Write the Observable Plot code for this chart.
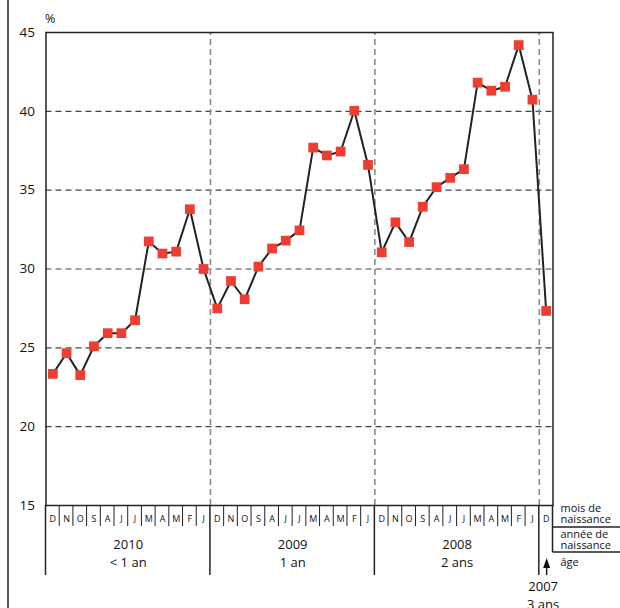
<!DOCTYPE html>
<html><head><meta charset="utf-8">
<script src="https://cdn.jsdelivr.net/npm/d3@7"></script>
<script src="https://cdn.jsdelivr.net/npm/@observablehq/plot@0.6"></script>
<style>
body{margin:0;background:#fff}
svg{font-family:"Open Sans",sans-serif}
</style>
</head><body><div id="chart"></div>
<script>
const months = ["D","N","O","S","A","J","J","M","A","M","F","J"];
const years = ["2010","2009","2008","2007"];
const ages = ["< 1 an","1 an","2 ans","3 ans"];
const values2010 = [23.35,24.66,23.27,25.1,25.93,25.93,26.75,31.75,30.98,31.1,33.79,30.0];
const values2009 = [27.5,29.24,28.08,30.15,31.3,31.8,32.45,37.7,37.2,37.45,40.04,36.6];
const values2008 = [31.06,32.96,31.71,33.95,35.19,35.78,36.33,41.82,41.31,41.56,44.2,40.74];
const values2007 = [27.34];
const yTicks = [15,20,25,30,35,40,45];
const gridValues = [20,25,30,35,40];
const rowLabels = [["mois de","naissance"],["année de","naissance"],["âge"]];

const series = [values2010, values2009, values2008, values2007];
const data = series.flatMap((vals, k) => vals.map((v, j) => ({i: k * 12 + j, v, m: months[j], year: years[k]})));
const n = data.length;
const yearBounds = [11.5, 23.5, 35.5];
const groups = years.map((y, k) => ({c: k < 3 ? k * 12 + 5.5 : 36, year: y, age: ages[k], last: k === 3}));

const chart = Plot.plot({
  width: 620, height: 608,
  marginLeft: 45.5, marginRight: 67.5, marginTop: 32, marginBottom: 103,
  x: {domain: [-0.5, n - 0.5], axis: null},
  y: {domain: [15, 45], axis: null},
  style: {fontFamily: "Open Sans, sans-serif", background: "white", color: "#111"},
  marks: [
    Plot.ruleY(gridValues, {stroke: "#444", strokeDasharray: "6,4", strokeWidth: 1.2}),
    Plot.ruleX(yearBounds, {y1: 15, y2: 45, stroke: "#8a8a8a", strokeDasharray: "6,4", strokeWidth: 1.6}),
    Plot.frame({stroke: "#222", strokeWidth: 1.5}),
    Plot.axisY(yTicks, {tickSize: 0, tickPadding: 11, fontSize: 13.5, label: null, fill: "#111"}),
    Plot.line(data, {x: "i", y: "v", stroke: "#222", strokeWidth: 2}),
    Plot.dot(data, {x: "i", y: "v", symbol: "square", r: 5.5, fill: "#ee3e32", stroke: "none"}),
    Plot.text(data, {x: "i", y: () => 15, dy: 14, text: "m", fontSize: 9, fill: "#111"}),
    Plot.text(groups.filter(d => !d.last), {x: "c", y: () => 15, dy: 39, text: "year", fontSize: 13, fill: "#111"}),
    Plot.text(groups.filter(d => !d.last), {x: "c", y: () => 15, dy: 57, text: "age", fontSize: 13, fill: "#111"}),
    Plot.text(groups.filter(d => d.last), {x: "c", y: () => 15, dy: 81, dx: -3, text: "year", fontSize: 13, fill: "#111"}),
    Plot.text(groups.filter(d => d.last), {x: "c", y: () => 15, dy: 99, dx: -3, text: "age", fontSize: 13, fill: "#111"})
  ]
});

const xs = chart.scale("x"), ys = chart.scale("y");
const X = v => xs.apply(v), Y = v => ys.apply(v);
const svg = d3.select(chart);
const g = svg.append("g").attr("stroke", "#222").attr("stroke-width", 1.2).attr("fill", "none");
const y0 = Y(15);
// month cell separators
for (let b = -0.5; b <= n - 0.5; b += 1) {
  const isYear = [-0.5, 11.5, 23.5, 35.5].includes(b);
  const isEnd = b === n - 0.5;
  const y2 = isYear ? y0 + 70 : isEnd ? y0 + 47 : y0 + 21;
  g.append("line").attr("x1", X(b)).attr("x2", X(b)).attr("y1", y0).attr("y2", y2)
    .attr("stroke-width", isYear || isEnd ? 1.5 : 1);
}
// right side row separators
const xr = X(n - 0.5);
[22, 47].forEach(dy => g.append("line").attr("x1", xr).attr("x2", 620).attr("y1", y0 + dy).attr("y2", y0 + dy).attr("stroke-width", 1.5));
// left page frame
g.append("line").attr("x1", 8).attr("x2", 8).attr("y1", 0).attr("y2", 608).attr("stroke-width", 1.5);
// arrow
const xa = X(36) + 1;
g.append("line").attr("x1", xa).attr("x2", xa).attr("y1", y0 + 70).attr("y2", y0 + 60).attr("stroke-width", 1.5);
svg.append("path").attr("d", `M${xa},${y0 + 53} L${xa - 3.5},${y0 + 63} L${xa + 3.5},${y0 + 63} Z`).attr("fill", "#111");
// row labels
const t = svg.append("g").attr("fill", "#111").attr("font-size", 11).attr("text-anchor", "start").attr("font-family", "Open Sans, sans-serif");
const rowY = [[y0 + 3.5, y0 + 14], [y0 + 29.5, y0 + 40], [y0 + 57]];
rowLabels.forEach((lines, k) => lines.forEach((s, j) => t.append("text").attr("x", xr + 8).attr("y", rowY[k][j]).attr("dy", "0.35em").text(s)));
// % label
svg.append("text").attr("x", 45).attr("y", 18.5).attr("dy", "0.35em").attr("text-anchor", "start").attr("font-size", 12.5).attr("fill", "#111").text("%");

document.getElementById("chart").appendChild(chart);
</script>
</body></html>
